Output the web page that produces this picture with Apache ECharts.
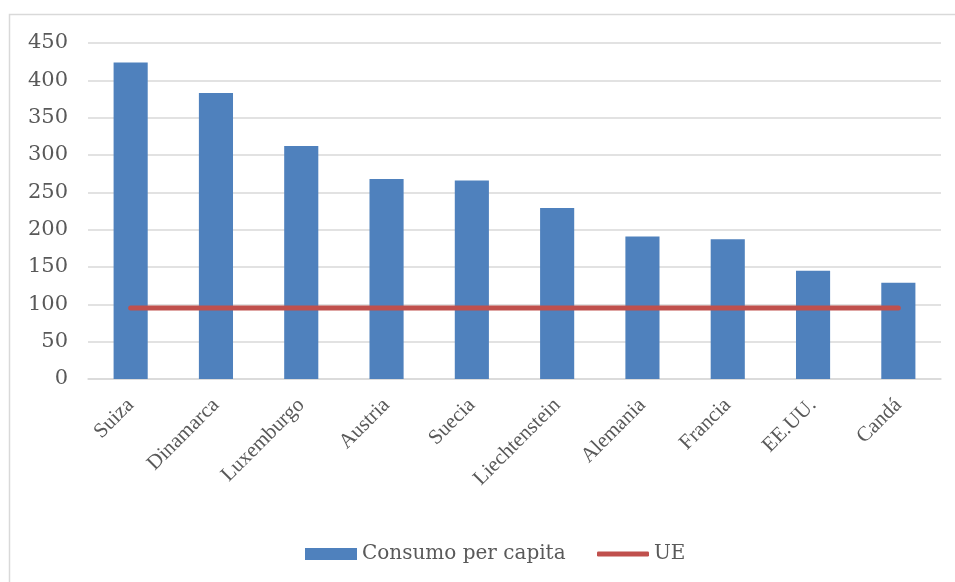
<!DOCTYPE html>
<html>
<head>
<meta charset="utf-8">
<script src="https://cdn.jsdelivr.net/npm/echarts@6/dist/echarts.min.js"></script>
<style>
html,body{margin:0;padding:0;background:#fff;}
#c{width:955px;height:582px;}
</style>
</head>
<body>
<div id="c"></div>
<script>
const categories = ["Suiza","Dinamarca","Luxemburgo","Austria","Suecia","Liechtenstein","Alemania","Francia","EE.UU.","Candá"];
const consumo = [424, 383, 312, 268, 266, 229, 191, 187, 145, 129];
const ue = [95, 95, 95, 95, 95, 95, 95, 95, 95, 95];
const yTicks = {min: 0, max: 450, interval: 50};

const font = "'DejaVu Serif', serif";
const fontX = "'Liberation Serif', serif";
const legendText = {fontFamily: font, fontSize: 20, color: '#595959'};
const chart = echarts.init(document.getElementById('c'), null, {renderer: 'canvas'});
chart.setOption({
  animation: false,
  backgroundColor: '#fff',
  graphic: [{
    type: 'rect',
    shape: {x: 9.5, y: 14.5, width: 960, height: 600},
    style: {fill: 'none', stroke: '#D9D9D9', lineWidth: 1.5},
    silent: true
  }],
  grid: {left: 88, right: 14, top: 43, bottom: 203, containLabel: false},
  legend: [
    {
      top: 539, left: 300,
      itemWidth: 52, itemHeight: 12,
      textStyle: legendText,
      data: [{name: 'Consumo per capita', icon: 'rect'}]
    },
    {
      top: 539, left: 592,
      itemWidth: 52, itemHeight: 5,
      textStyle: legendText,
      data: [{name: 'UE', icon: 'roundRect'}]
    }
  ],
  xAxis: {
    type: 'category',
    data: categories,
    axisTick: {show: false},
    axisLine: {lineStyle: {color: '#D9D9D9', width: 1.5}},
    axisLabel: {rotate: 45, fontFamily: fontX, fontSize: 21, color: '#595959', margin: 23, interval: 0}
  },
  yAxis: {
    type: 'value',
    min: yTicks.min, max: yTicks.max, interval: yTicks.interval,
    axisLine: {show: false},
    axisTick: {show: false},
    splitLine: {lineStyle: {color: '#D9D9D9', width: 1.5}},
    axisLabel: {fontFamily: font, fontSize: 21, color: '#595959', margin: 20}
  },
  series: [
    {
      name: 'Consumo per capita',
      type: 'bar',
      data: consumo,
      barWidth: '40%',
      itemStyle: {color: '#4F81BD'}
    },
    {
      name: 'UE',
      type: 'line',
      data: ue,
      symbol: 'none',
      lineStyle: {color: '#C0504D', width: 5, cap: 'round'},
      itemStyle: {color: '#C0504D'}
    }
  ]
});
</script>
</body>
</html>
